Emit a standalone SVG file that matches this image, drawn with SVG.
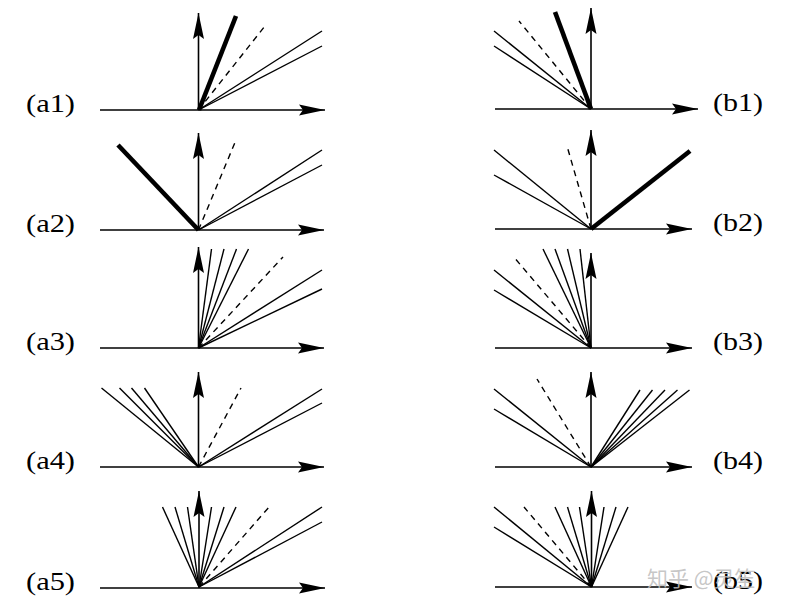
<svg xmlns="http://www.w3.org/2000/svg" width="796" height="609" viewBox="0 0 796 609">
<style>
.ax{stroke:#000;stroke-width:1.6;fill:none}
.th{stroke:#000;stroke-width:1.4;fill:none}
.tk{stroke:#000;stroke-width:4.6;fill:none}
.da{stroke:#000;stroke-width:1.4;stroke-dasharray:6 5;fill:none}
.lb{font-family:"Liberation Serif","Times New Roman",serif;font-size:25px;fill:#000}
.wm{font-family:"Noto Sans CJK SC","Noto Sans",sans-serif;font-size:21px;fill:#bdbdbd;fill-opacity:0.85}
</style>
<defs>
<marker id="ah" markerUnits="userSpaceOnUse" markerWidth="28" markerHeight="13" refX="26" refY="6" orient="auto">
<path d="M0,0.5 L26,6 L0,11.5 L4,6 Z" fill="#000"/>
</marker>
</defs>
<rect width="796" height="609" fill="#fff"/>

<g id="a1">
<line class="th" x1="198.5" y1="110" x2="322" y2="31"/>
<line class="th" x1="198.5" y1="110" x2="322" y2="46"/>
<line class="da" x1="198.5" y1="110" x2="265" y2="26"/>
<line class="tk" x1="199" y1="110" x2="236" y2="16"/>
<line class="ax" x1="100" y1="110" x2="325" y2="110" marker-end="url(#ah)"/>
<line class="ax" x1="198.5" y1="110" x2="198.5" y2="13" marker-end="url(#ah)"/>
<text class="lb" x="26" y="112" textLength="49" lengthAdjust="spacingAndGlyphs">(a1)</text>
</g>

<g id="b1">
<line class="th" x1="591" y1="109" x2="494" y2="31"/>
<line class="th" x1="591" y1="109" x2="494" y2="46"/>
<line class="da" x1="591" y1="109" x2="519" y2="21"/>
<line class="tk" x1="591" y1="109" x2="555" y2="12"/>
<line class="ax" x1="495" y1="109" x2="698" y2="109" marker-end="url(#ah)"/>
<line class="ax" x1="591" y1="109" x2="591" y2="8" marker-end="url(#ah)"/>
<text class="lb" x="713" y="111" textLength="50" lengthAdjust="spacingAndGlyphs">(b1)</text>
</g>

<g id="a2">
<line class="th" x1="198.5" y1="230" x2="322" y2="150"/>
<line class="th" x1="198.5" y1="230" x2="322" y2="165"/>
<line class="da" x1="198.5" y1="230" x2="236" y2="140"/>
<line class="tk" x1="198.5" y1="230" x2="118" y2="145"/>
<line class="ax" x1="100" y1="230" x2="324" y2="230" marker-end="url(#ah)"/>
<line class="ax" x1="198.5" y1="230" x2="198.5" y2="133" marker-end="url(#ah)"/>
<text class="lb" x="26" y="232" textLength="49" lengthAdjust="spacingAndGlyphs">(a2)</text>
</g>

<g id="b2">
<line class="th" x1="591" y1="229" x2="494" y2="150"/>
<line class="th" x1="591" y1="229" x2="494" y2="175"/>
<line class="da" x1="591" y1="229" x2="567" y2="146"/>
<line class="tk" x1="591" y1="229" x2="690" y2="151"/>
<line class="ax" x1="495" y1="229" x2="692" y2="229" marker-end="url(#ah)"/>
<line class="ax" x1="591" y1="229" x2="591" y2="130" marker-end="url(#ah)"/>
<text class="lb" x="713" y="231" textLength="50" lengthAdjust="spacingAndGlyphs">(b2)</text>
</g>

<g id="a3">
<line class="th" x1="198.5" y1="348" x2="211.5" y2="249"/>
<line class="th" x1="198.5" y1="348" x2="224" y2="249"/>
<line class="th" x1="198.5" y1="348" x2="236.5" y2="249"/>
<line class="th" x1="198.5" y1="348" x2="248.5" y2="249"/>
<line class="da" x1="198.5" y1="348" x2="283" y2="257"/>
<line class="th" x1="198.5" y1="348" x2="322" y2="270"/>
<line class="th" x1="198.5" y1="348" x2="322" y2="289"/>
<line class="ax" x1="100" y1="348" x2="324" y2="348" marker-end="url(#ah)"/>
<line class="ax" x1="198.5" y1="348" x2="198.5" y2="247" marker-end="url(#ah)"/>
<text class="lb" x="26" y="350" textLength="49" lengthAdjust="spacingAndGlyphs">(a3)</text>
</g>

<g id="b3">
<line class="th" x1="591" y1="348" x2="543" y2="249"/>
<line class="th" x1="591" y1="348" x2="555" y2="249"/>
<line class="th" x1="591" y1="348" x2="567.5" y2="249"/>
<line class="th" x1="591" y1="348" x2="580" y2="249"/>
<line class="da" x1="591" y1="348" x2="513" y2="256"/>
<line class="th" x1="591" y1="348" x2="494" y2="270"/>
<line class="th" x1="591" y1="348" x2="494" y2="290"/>
<line class="ax" x1="495" y1="348" x2="692" y2="348" marker-end="url(#ah)"/>
<line class="ax" x1="591" y1="348" x2="591" y2="253" marker-end="url(#ah)"/>
<text class="lb" x="713" y="350" textLength="50" lengthAdjust="spacingAndGlyphs">(b3)</text>
</g>

<g id="a4">
<line class="th" x1="198.5" y1="467" x2="101.5" y2="388"/>
<line class="th" x1="198.5" y1="467" x2="119.5" y2="388"/>
<line class="th" x1="198.5" y1="467" x2="131.5" y2="388"/>
<line class="th" x1="198.5" y1="467" x2="144.5" y2="388"/>
<line class="da" x1="198.5" y1="467" x2="241" y2="388"/>
<line class="th" x1="198.5" y1="467" x2="322" y2="389"/>
<line class="th" x1="198.5" y1="467" x2="322" y2="403"/>
<line class="ax" x1="100" y1="467" x2="324" y2="467" marker-end="url(#ah)"/>
<line class="ax" x1="198.5" y1="467" x2="198.5" y2="372" marker-end="url(#ah)"/>
<text class="lb" x="26" y="469" textLength="49" lengthAdjust="spacingAndGlyphs">(a4)</text>
</g>

<g id="b4">
<line class="th" x1="591" y1="467" x2="494" y2="389"/>
<line class="th" x1="591" y1="467" x2="494" y2="409"/>
<line class="da" x1="591" y1="467" x2="537" y2="379"/>
<line class="th" x1="591" y1="467" x2="640" y2="390"/>
<line class="th" x1="591" y1="467" x2="652.5" y2="390"/>
<line class="th" x1="591" y1="467" x2="665" y2="390"/>
<line class="th" x1="591" y1="467" x2="677.5" y2="390"/>
<line class="th" x1="591" y1="467" x2="689.5" y2="390"/>
<line class="ax" x1="495" y1="467" x2="692" y2="467" marker-end="url(#ah)"/>
<line class="ax" x1="591" y1="467" x2="591" y2="372" marker-end="url(#ah)"/>
<text class="lb" x="713" y="469" textLength="50" lengthAdjust="spacingAndGlyphs">(b4)</text>
</g>

<g id="a5">
<line class="th" x1="199" y1="587" x2="162.5" y2="507"/>
<line class="th" x1="199" y1="587" x2="175" y2="507"/>
<line class="th" x1="199" y1="587" x2="187.5" y2="507"/>
<line class="th" x1="199" y1="587" x2="211.5" y2="507"/>
<line class="th" x1="199" y1="587" x2="224" y2="507"/>
<line class="th" x1="199" y1="587" x2="236" y2="507"/>
<line class="da" x1="199" y1="587" x2="270" y2="506"/>
<line class="th" x1="199" y1="587" x2="322" y2="507"/>
<line class="th" x1="199" y1="587" x2="322" y2="522"/>
<line class="ax" x1="100" y1="588" x2="325" y2="588" marker-end="url(#ah)"/>
<line class="ax" x1="199" y1="588" x2="199" y2="491" marker-end="url(#ah)"/>
<text class="lb" x="26" y="590" textLength="49" lengthAdjust="spacingAndGlyphs">(a5)</text>
</g>

<g id="b5">
<line class="th" x1="591.5" y1="587" x2="555" y2="507"/>
<line class="th" x1="591.5" y1="587" x2="567.5" y2="507"/>
<line class="th" x1="591.5" y1="587" x2="579.5" y2="507"/>
<line class="th" x1="591.5" y1="587" x2="604" y2="507"/>
<line class="th" x1="591.5" y1="587" x2="616" y2="507"/>
<line class="th" x1="591.5" y1="587" x2="628" y2="507"/>
<line class="da" x1="591.5" y1="587" x2="524" y2="507"/>
<line class="th" x1="591.5" y1="587" x2="494" y2="507"/>
<line class="th" x1="591.5" y1="587" x2="494" y2="527"/>
<line class="ax" x1="495" y1="587" x2="692" y2="587" marker-end="url(#ah)"/>
<line class="ax" x1="591.5" y1="587" x2="591.5" y2="491" marker-end="url(#ah)"/>
<text class="lb" x="713" y="589" textLength="50" lengthAdjust="spacingAndGlyphs">(b5)</text>
</g>

<g id="watermark">
<text class="wm" x="647" y="586">知乎 @灵笙</text>
</g>
</svg>
